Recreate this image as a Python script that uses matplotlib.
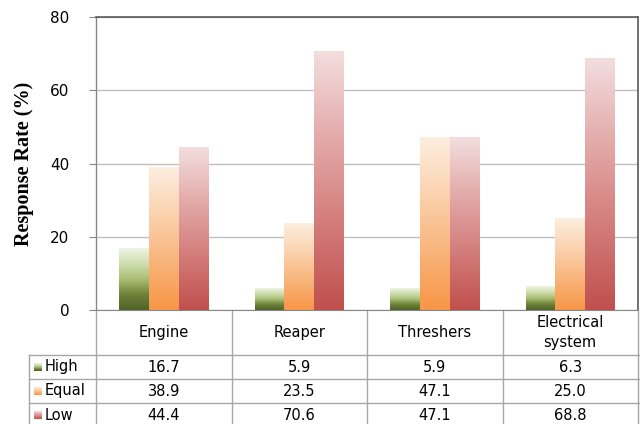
import numpy as np
import matplotlib
matplotlib.use("Agg")
import matplotlib.pyplot as plt
from matplotlib.colors import LinearSegmentedColormap
from matplotlib.lines import Line2D
from matplotlib import transforms

categories = ["Engine", "Reaper", "Threshers", "Electrical\nsystem"]
series = ["High", "Equal", "Low"]
high = [16.7, 5.9, 5.9, 6.3]
equal = [38.9, 23.5, 47.1, 25.0]
low = [44.4, 70.6, 47.1, 68.8]

# bottom -> top gradient stops for each series
gradients = {
    "High": ["#4f6228", "#6e8239", "#a9bf74", "#cfdeaf", "#eef3e3"],
    "Equal": ["#f79646", "#f8b47a", "#fbd2ae", "#fdeee0"],
    "Low": ["#c0504d", "#d37c7a", "#e3aaa9", "#f3dede"],
}

W, H = 640, 424
fig = plt.figure(figsize=(W / 100, H / 100), dpi=100)
ax = fig.add_axes([96 / W, 1 - 310 / H, 542 / W, 293 / H])

values = [high, equal, low]
width = 0.22
x = np.arange(len(categories))
cmaps = {}
for k, (name, vals) in enumerate(zip(series, values)):
    cmap = LinearSegmentedColormap.from_list(name, gradients[name])
    cmaps[name] = cmap
    grad = cmap(np.linspace(0, 1, 256))[:, None, :3]
    for xi, v in zip(x, vals):
        x0 = xi + (k - 1) * width - width / 2
        ax.imshow(grad, extent=[x0, x0 + width, 0, v], aspect="auto",
                  origin="lower", zorder=2, interpolation="bilinear")

ax.set_xlim(-0.5, len(categories) - 0.5)
ax.set_ylim(0, 80)
ax.set_yticks([0, 20, 40, 60, 80])
ax.set_xticks([])
ax.yaxis.grid(True, color="#c0c0c0", linewidth=1)
ax.set_axisbelow(True)
ax.tick_params(axis="y", length=5, color="#868686", labelsize=11,
               labelcolor="#000000", pad=14)
ax.spines["left"].set_color("#868686")
ax.spines["bottom"].set_color("#868686")
for s in ["top", "right"]:
    ax.spines[s].set_color("#595959")
    ax.spines[s].set_linewidth(1.2)
ax.set_ylabel("Response Rate (%)", family="Liberation Serif", weight="bold",
              fontsize=14.5, labelpad=12)

# data table under the plot
line_c = "#a6a6a6"
def fy(px):
    return 1 - px / H

blend = transforms.blended_transform_factory(ax.transData, fig.transFigure)
header_bottom, row_h = 355, 24
bottom = H + 5
for b in np.arange(len(categories) + 1) - 0.5:
    top = 17 if b == -0.5 else 310
    ax.add_line(Line2D([b, b], [fy(top), fy(bottom)], transform=blend,
                       color=line_c, lw=1, clip_on=False))
for r in range(len(series)):
    y = fy(header_bottom + r * row_h)
    fig.add_artist(Line2D([29 / W, 1], [y, y], transform=fig.transFigure,
                          color=line_c, lw=1))
fig.add_artist(Line2D([29 / W, 29 / W], [fy(header_bottom), fy(bottom)],
                      transform=fig.transFigure, color=line_c, lw=1))

for xi, cat in zip(x, categories):
    ax.text(xi, fy((310 + header_bottom) / 2), cat, transform=blend,
            ha="center", va="center", fontsize=10.5, linespacing=1.45)

for r, (name, vals) in enumerate(zip(series, values)):
    yc = fy(header_bottom + r * row_h + row_h / 2)
    key = fig.add_axes([34 / W, yc - 4 / H, 8 / W, 8 / H])
    key.imshow(cmaps[name](np.linspace(0, 1, 32))[:, None, :3],
               aspect="auto", origin="lower", extent=[0, 1, 0, 1])
    key.set_axis_off()
    fig.text(45 / W, yc, name, ha="left", va="center", fontsize=10.5)
    for xi, v in zip(x, vals):
        ax.text(xi, yc, f"{v:.1f}", transform=blend, ha="center",
                va="center", fontsize=10.5)

fig.savefig("out.png", dpi=100)
